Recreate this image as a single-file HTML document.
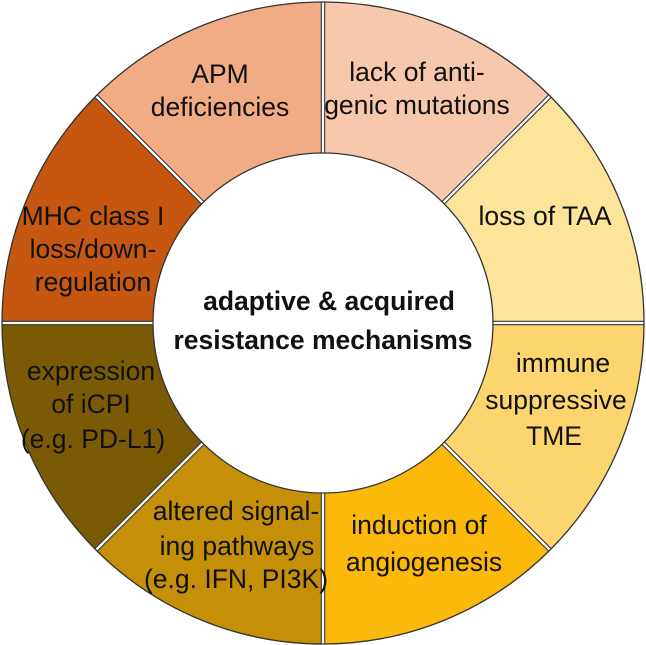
<!DOCTYPE html>
<html><head><meta charset="utf-8"><style>
html,body{margin:0;padding:0;background:#fff}
svg{display:block}
text{font-family:"Liberation Sans",sans-serif;font-size:26.5px;fill:#111;text-anchor:middle;dominant-baseline:central}
.b{font-weight:bold;font-size:26.5px}
</style></head><body>
<svg width="646" height="645" viewBox="0 0 646 645" xmlns="http://www.w3.org/2000/svg">
<g stroke="none">
<path fill="#f7c8ab" d="M323,2 A321,321 0 0 1 550,96 L443.2,202.8 A170,170 0 0 0 323,153 Z"/>
<path fill="#fde49b" d="M550,96 A321,321 0 0 1 644,323 L493,323 A170,170 0 0 0 443.2,202.8 Z"/>
<path fill="#fdd56e" d="M644,323 A321,321 0 0 1 550,550 L443.2,443.2 A170,170 0 0 0 493,323 Z"/>
<path fill="#fbb90c" d="M550,550 A321,321 0 0 1 323,644 L323,493 A170,170 0 0 0 443.2,443.2 Z"/>
<path fill="#c58f08" d="M323,644 A321,321 0 0 1 96,550 L202.8,443.2 A170,170 0 0 0 323,493 Z"/>
<path fill="#7a5a05" d="M96,550 A321,321 0 0 1 2,323 L153,323 A170,170 0 0 0 202.8,443.2 Z"/>
<path fill="#c55710" d="M2,323 A321,321 0 0 1 96,96 L202.8,202.8 A170,170 0 0 0 153,323 Z"/>
<path fill="#f2ac85" d="M96,96 A321,321 0 0 1 323,2 L323,153 A170,170 0 0 0 202.8,202.8 Z"/>
</g>
<g stroke="#333" stroke-width="4.5">
<line x1="323" y1="2" x2="323" y2="153"/><line x1="323" y1="493" x2="323" y2="644"/>
<line x1="2" y1="323" x2="153" y2="323"/><line x1="493" y1="323" x2="644" y2="323"/>
<line x1="96" y1="96" x2="202.8" y2="202.8"/><line x1="550" y1="96" x2="443.2" y2="202.8"/>
<line x1="96" y1="550" x2="202.8" y2="443.2"/><line x1="550" y1="550" x2="443.2" y2="443.2"/>
</g>
<g stroke="#fff" stroke-width="2.3">
<line x1="323" y1="0" x2="323" y2="155"/><line x1="323" y1="491" x2="323" y2="646"/>
<line x1="0" y1="323" x2="155" y2="323"/><line x1="491" y1="323" x2="646" y2="323"/>
<line x1="94" y1="94" x2="204" y2="204"/><line x1="552" y1="94" x2="442" y2="204"/>
<line x1="94" y1="552" x2="204" y2="442"/><line x1="552" y1="552" x2="442" y2="442"/>
</g>
<circle cx="323" cy="323" r="321" fill="none" stroke="#333" stroke-width="1.3"/>
<circle cx="323" cy="323" r="170" fill="#fff" stroke="#333" stroke-width="1.3"/>
<text x="220" y="74">APM</text><text x="220" y="107">deficiencies</text>
<text x="417" y="72">lack of anti-</text><text x="417" y="105">genic mutations</text>
<text x="545" y="216">loss of TAA</text>
<text x="563" y="363">immune</text><text x="556" y="400">suppressive</text><text x="554" y="436">TME</text>
<text x="419" y="525">induction of</text><text x="424" y="562">angiogenesis</text>
<text x="236" y="511">altered signal-</text><text x="237" y="546">ing pathways</text><text x="236" y="579">(e.g. IFN, PI3K)</text>
<text x="91" y="371">expression</text><text x="91" y="404">of  iCPI</text><text x="93" y="439">(e.g. PD-L1)</text>
<text x="93" y="216">MHC class I</text><text x="93" y="249">loss/down-</text><text x="93" y="282">regulation</text>
<text class="b" x="329" y="301">adaptive &amp; acquired</text>
<text class="b" x="323" y="340">resistance mechanisms</text>
</svg>
</body></html>
